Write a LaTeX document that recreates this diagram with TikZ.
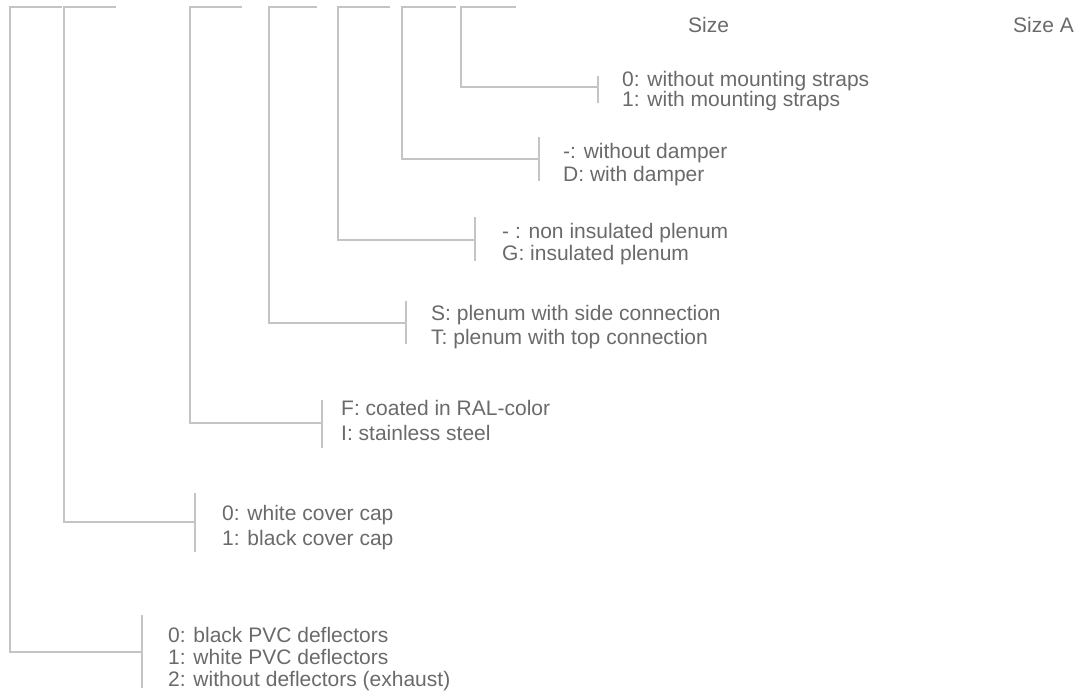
\documentclass[tikz,border=0pt]{standalone}
\usepackage{fontspec}
\setmainfont{Liberation Sans}
\definecolor{linegray}{HTML}{C4C4C4}
\definecolor{textgray}{HTML}{6A6A6A}
\begin{document}
\begin{tikzpicture}[x=1pt,y=-1pt,
  conn/.style={draw=linegray,line width=1.3pt},
  lbl/.style={anchor=base west,inner sep=0pt,text=textgray,font=\fontsize{21}{24}\selectfont}]
\useasboundingbox (0,0) rectangle (1082,697);
% bracket 1: deflectors
\coordinate (s1) at (10,7);  \coordinate (e1) at (62,7);  \coordinate (c1) at (10,652);  \coordinate (j1) at (142,652); \coordinate (t1) at (142,615); \coordinate (u1) at (142,688);
% bracket 2: cover cap
\coordinate (s2) at (64,7);  \coordinate (e2) at (116,7); \coordinate (c2) at (64,522);  \coordinate (j2) at (195,522); \coordinate (t2) at (195,493); \coordinate (u2) at (195,552);
% bracket 3: material
\coordinate (s3) at (190,7); \coordinate (e3) at (242,7); \coordinate (c3) at (190,423); \coordinate (j3) at (322,423); \coordinate (t3) at (322,400); \coordinate (u3) at (322,448);
% bracket 4: plenum connection
\coordinate (s4) at (269,7); \coordinate (e4) at (317,7); \coordinate (c4) at (269,323); \coordinate (j4) at (406,323); \coordinate (t4) at (406,301); \coordinate (u4) at (406,344);
% bracket 5: insulation
\coordinate (s5) at (338,7); \coordinate (e5) at (390,7); \coordinate (c5) at (338,240); \coordinate (j5) at (475,240); \coordinate (t5) at (475,217); \coordinate (u5) at (475,261);
% bracket 6: damper
\coordinate (s6) at (402,7); \coordinate (e6) at (456,7); \coordinate (c6) at (402,159); \coordinate (j6) at (539,159); \coordinate (t6) at (539,137); \coordinate (u6) at (539,181);
% bracket 7: mounting straps
\coordinate (s7) at (461,7); \coordinate (e7) at (516,7); \coordinate (c7) at (461,87);  \coordinate (j7) at (598,87);  \coordinate (t7) at (598,76);  \coordinate (u7) at (598,103);
\foreach \i in {1,...,7}{
  \draw[conn] (e\i) -- (s\i) -- (c\i) -- (j\i);
  \draw[conn] (t\i) -- (u\i);
}
% labels
\node[lbl] (size)  at (688,32)  {Size};
\node[lbl] (sizea) at (1013,32) {Size A};
\node[lbl] (m0) at (622,86)  {0: without mounting straps};
\node[lbl] (m1) at (622,106) {1: with mounting straps};
\node[lbl] (d0) at (563,158) {-: without damper};
\node[lbl] (d1) at (563,181) {D: with damper};
\node[lbl] (g0) at (502,238) {- : non insulated plenum};
\node[lbl] (g1) at (502,260) {G: insulated plenum};
\node[lbl] (p0) at (431,320) {S: plenum with side connection};
\node[lbl] (p1) at (431,344) {T: plenum with top connection};
\node[lbl] (f0) at (341,415) {F: coated in RAL-color};
\node[lbl] (f1) at (341,440) {I: stainless steel};
\node[lbl] (k0) at (222,520) {0: white cover cap};
\node[lbl] (k1) at (222,545) {1: black cover cap};
\node[lbl] (v0) at (168,642) {0: black PVC deflectors};
\node[lbl] (v1) at (168,664) {1: white PVC deflectors};
\node[lbl] (v2) at (168,686) {2: without deflectors (exhaust)};
\end{tikzpicture}
\end{document}
